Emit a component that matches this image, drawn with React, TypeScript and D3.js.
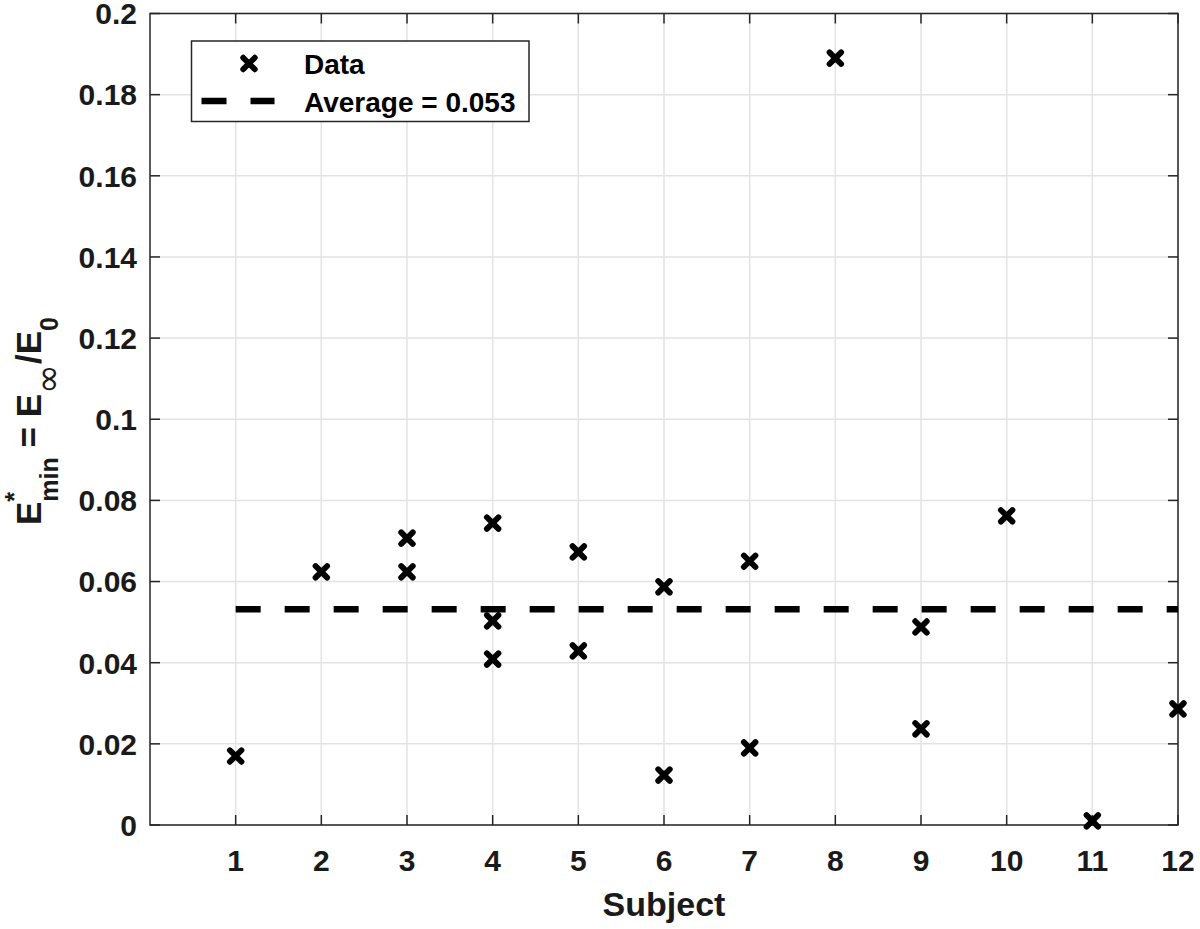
import React from "react";
import * as d3 from "d3";

const subjects = [1, 2, 3, 3, 4, 4, 4, 5, 5, 6, 6, 7, 7, 8, 9, 9, 10, 11, 12];
const values = [0.017, 0.0624, 0.0707, 0.0624, 0.0744, 0.0503, 0.0409, 0.0673, 0.0429, 0.0587, 0.0123, 0.065, 0.019, 0.189, 0.0488, 0.0237, 0.0762, 0.001, 0.0286];
const averageValue = 0.0532;
const averageLabel = "Average = 0.053";
const xTicks = [1, 2, 3, 4, 5, 6, 7, 8, 9, 10, 11, 12];
const yTicks = [0, 0.02, 0.04, 0.06, 0.08, 0.1, 0.12, 0.14, 0.16, 0.18, 0.2];
const yTickLabels = ["0", "0.02", "0.04", "0.06", "0.08", "0.1", "0.12", "0.14", "0.16", "0.18", "0.2"];

const W = 1200, H = 929;
const L = 150, R = 1178, T = 13.5, B = 825;
const FONT = "'Liberation Sans', Arial, Helvetica, sans-serif";
const AX = "#262626";

export default function App() {
  const x = d3.scaleLinear().domain([0, 12]).range([L, R]);
  const y = d3.scaleLinear().domain([0, 0.2]).range([B, T]);
  const mk = 5.8;
  const cross = (cx: number, cy: number, key: string | number) => (
    <path key={key} d={`M${cx - mk},${cy - mk}L${cx + mk},${cy + mk}M${cx - mk},${cy + mk}L${cx + mk},${cy - mk}`}
      stroke="#000" strokeWidth={5.8} strokeLinecap="round" fill="none" />
  );
  const line = d3.line<number>().x(d => x(d)).y(() => y(averageValue));
  return (
    <svg width={W} height={H} style={{ position: "absolute", left: 0, top: 0, background: "#fff" }} fontFamily={FONT} fontWeight="bold">
      <rect x={0} y={0} width={W} height={H} fill="#fff" />
      {/* grid */}
      {xTicks.map(t => (
        <line key={"gx" + t} x1={x(t)} x2={x(t)} y1={T} y2={B} stroke="#e3e3e3" strokeWidth={1.5} />
      ))}
      {yTicks.map(t => (
        <line key={"gy" + t} x1={L} x2={R} y1={y(t)} y2={y(t)} stroke="#e3e3e3" strokeWidth={1.5} />
      ))}
      {/* ticks */}
      {xTicks.map(t => (
        <g key={"tx" + t}>
          <line x1={x(t)} x2={x(t)} y1={B} y2={B - 10} stroke={AX} strokeWidth={1.5} />
          <line x1={x(t)} x2={x(t)} y1={T} y2={T + 10} stroke={AX} strokeWidth={1.5} />
          <text x={x(t)} y={871} textAnchor="middle" fontSize={30} fill="#1a1a1a">{t}</text>
        </g>
      ))}
      {yTicks.map((t, i) => (
        <g key={"ty" + t}>
          <line x1={L} x2={L + 10} y1={y(t)} y2={y(t)} stroke={AX} strokeWidth={1.5} />
          <line x1={R} x2={R - 10} y1={y(t)} y2={y(t)} stroke={AX} strokeWidth={1.5} />
          <text x={137} y={y(t)} dy="0.36em" textAnchor="end" fontSize={30} fill="#1a1a1a">{yTickLabels[i]}</text>
        </g>
      ))}
      <rect x={L} y={T} width={R - L} height={B - T} fill="none" stroke={AX} strokeWidth={1.5} />
      {/* average line */}
      <path d={line([1, 12]) || ""} stroke="#000" strokeWidth={6.5} strokeDasharray="25 24" fill="none" />
      {/* data */}
      {subjects.map((s, i) => cross(x(s), y(values[i]), i))}
      {/* legend */}
      <rect x={191.5} y={41} width={337.5} height={80.5} fill="#fff" stroke={AX} strokeWidth={1.5} />
      {cross(249, 63.5, "leg")}
      <text x={304} y={73.5} fontSize={28} fill="#000">Data</text>
      <line x1={201.5} x2={274.5} y1={101} y2={101} stroke="#000" strokeWidth={6.5} strokeDasharray="25 24" />
      <text x={304} y={111.5} fontSize={28} fill="#000">{averageLabel}</text>
      {/* axis labels */}
      <text x={(L + R) / 2} y={916} textAnchor="middle" fontSize={34} fill="#1a1a1a">Subject</text>
      <g transform="translate(41,421) rotate(-90)">
        <text x={0} y={0} textAnchor="middle" fontSize={35} fill="#1a1a1a" style={{ whiteSpace: "pre" }}>
          <tspan>E</tspan>
          <tspan fontSize={25} dy={-18}>*</tspan>
          <tspan fontSize={25} dx={-9.7} dy={35}>min</tspan>
          <tspan fontSize={35} dy={-17}>{" = E"}</tspan>
          <tspan fontSize={36} dy={19} fontFamily="'DejaVu Sans', sans-serif" fontWeight="normal">∞</tspan>
          <tspan fontSize={35} dy={-19}>/E</tspan>
          <tspan fontSize={25} dy={17}>0</tspan>
        </text>
      </g>
    </svg>
  );
}
